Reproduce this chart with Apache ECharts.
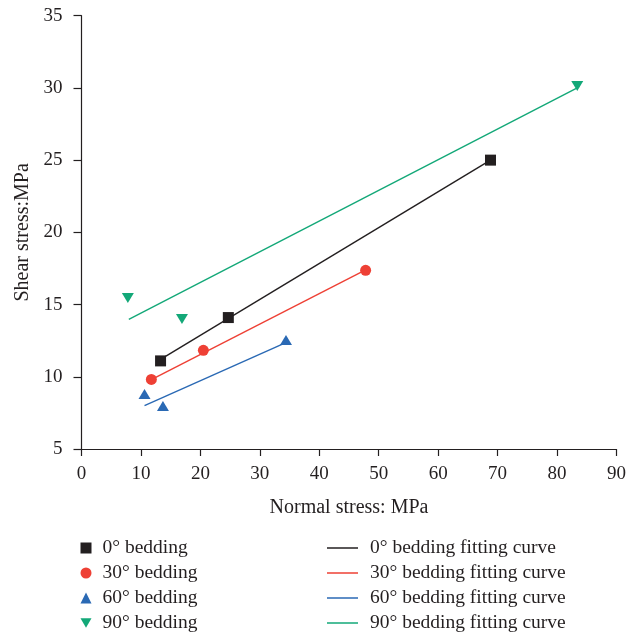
<!DOCTYPE html>
<html>
<head>
<meta charset="utf-8">
<script src="https://cdn.jsdelivr.net/npm/echarts@6/dist/echarts.min.js"></script>
<style>
  html, body { margin: 0; padding: 0; background: #fff; }
  #chart { width: 629px; height: 639px; }
</style>
</head>
<body>
<div id="chart"></div>
<script>
// ---- data ----
const seriesNames = ['0° bedding', '30° bedding', '60° bedding', '90° bedding'];
const fitNames = ['0° bedding fitting curve', '30° bedding fitting curve', '60° bedding fitting curve', '90° bedding fitting curve'];

const bed0X = [13.3, 24.7, 68.8];
const bed0Y = [11.1, 14.1, 25.0];
const bed30X = [11.75, 20.5, 47.8];
const bed30Y = [9.82, 11.83, 17.37];
const bed60X = [10.6, 13.7, 34.4];
const bed60Y = [8.8, 7.97, 12.54];
const bed90X = [7.8, 16.9, 83.4];
const bed90Y = [15.45, 14.0, 30.13];

const fit0X = [13.3, 68.8];
const fit0Y = [11.2, 25.0];
const fit30X = [11.75, 47.8];
const fit30Y = [9.8, 17.4];
const fit60X = [10.6, 34.0];
const fit60Y = [8.0, 12.3];
const fit90X = [7.96, 83.4];
const fit90Y = [13.97, 30.0];

const xTicks = [0, 10, 20, 30, 40, 50, 60, 70, 80, 90];
const yTicks = [5, 10, 15, 20, 25, 30, 35];

// ---- styling ----
const colors = ['#231f20', '#ee4035', '#2a69b4', '#13a878'];
const DOWN_TRI = 'path://M0,0 L10,0 L5,8.5 Z';
const symbols = ['rect', 'circle', 'triangle', DOWN_TRI];
const symSizes = [[11, 11], 11, [12, 10], [12, 10]];
const FONT = '"Liberation Serif", "DejaVu Serif", serif';
const axisColor = '#231f20';

function zip(xs, ys) { return xs.map((x, i) => [x, ys[i]]); }
const pts = [zip(bed0X, bed0Y), zip(bed30X, bed30Y), zip(bed60X, bed60Y), zip(bed90X, bed90Y)];
const fits = [zip(fit0X, fit0Y), zip(fit30X, fit30Y), zip(fit60X, fit60Y), zip(fit90X, fit90Y)];

const series = [];
fits.forEach((d, i) => {
  series.push({
    name: fitNames[i], type: 'line', data: d, symbol: 'none', showSymbol: false,
    lineStyle: { color: colors[i], width: 1.4 }, itemStyle: { color: colors[i] },
    z: 2, silent: true, animation: false
  });
});
pts.forEach((d, i) => {
  series.push({
    name: seriesNames[i], type: 'scatter', data: d, symbol: symbols[i],
    symbolSize: symSizes[i], itemStyle: { color: colors[i], opacity: 1 },
    z: 5, animation: false
  });
});

const legendIcons = ['rect', 'circle', 'triangle', DOWN_TRI];
const legendText = { fontFamily: FONT, fontSize: 19.5, color: axisColor, lineHeight: 19 };

const chart = echarts.init(document.getElementById('chart'), null, { renderer: 'canvas' });
chart.setOption({
  backgroundColor: '#fff',
  animation: false,
  grid: { left: 81.5, right: 10.5, top: 15.7, height: 433.3, containLabel: false },
  xAxis: {
    type: 'value', min: xTicks[0], max: xTicks[xTicks.length - 1], interval: 10,
    name: 'Normal stress: MPa', nameLocation: 'middle', nameGap: 49,
    nameTextStyle: { fontFamily: FONT, fontSize: 20, color: axisColor },
    axisLine: { show: true, onZero: false, lineStyle: { color: axisColor, width: 1.2 } },
    axisTick: { show: true, length: 7, lineStyle: { color: axisColor, width: 1.2 } },
    axisLabel: { fontFamily: FONT, fontSize: 19, color: axisColor, margin: 16 },
    splitLine: { show: false }
  },
  yAxis: {
    type: 'value', min: yTicks[0], max: yTicks[yTicks.length - 1], interval: 5,
    name: 'Shear stress:MPa', nameLocation: 'middle', nameGap: 48,
    nameTextStyle: { fontFamily: FONT, fontSize: 20, color: axisColor },
    axisLine: { show: true, onZero: false, lineStyle: { color: axisColor, width: 1.2 } },
    axisTick: { show: true, length: 8, lineStyle: { color: axisColor, width: 1.2 } },
    axisLabel: { fontFamily: FONT, fontSize: 19, color: axisColor, margin: 19 },
    splitLine: { show: false }
  },
  legend: [
    {
      data: seriesNames.map((n, i) => ({ name: n, icon: legendIcons[i] })),
      orient: 'vertical', left: 80.5, top: 538, padding: 0, height: 100,
      itemWidth: 11, itemHeight: 11, itemGap: 5,
      textStyle: Object.assign({}, legendText, { padding: [0, 0, 0, 6] }),
      selectedMode: false
    },
    {
      data: fitNames.map(n => ({ name: n, icon: 'rect' })),
      orient: 'vertical', left: 327, top: 538, padding: 0, height: 100,
      itemWidth: 31, itemHeight: 1.5, itemGap: 5,
      textStyle: Object.assign({}, legendText, { padding: [0, 0, 0, 7] }),
      selectedMode: false
    }
  ],
  series: series
});
</script>
</body>
</html>
